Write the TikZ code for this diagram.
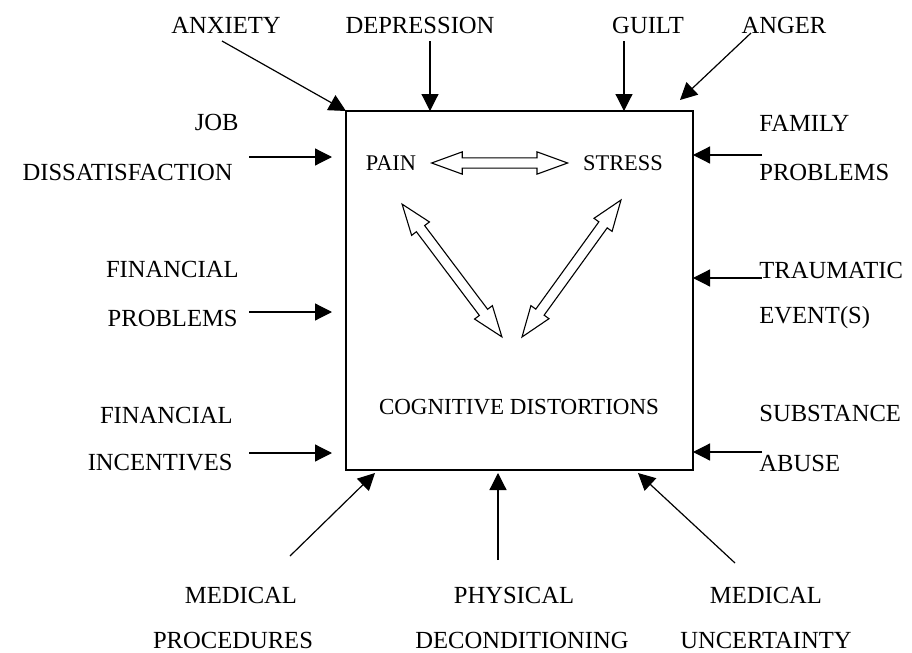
\documentclass[tikz,border=0pt]{standalone}
\usepackage{fontspec}
\setmainfont{Liberation Serif}
\usetikzlibrary{arrows.meta,shapes.arrows,calc}

\tikzset{
  factor/.style={font=\fontsize{12.3}{14}\selectfont, inner sep=0pt},
  core/.style={font=\fontsize{11.2}{13}\selectfont, inner sep=0pt},
  feed/.style={line width=0.6pt, -{Triangle[length=8.5pt,width=8.5pt]}},
  link/.style={double arrow, draw, line width=0.55pt, inner sep=2.3pt, minimum width=10.5pt,
    double arrow head extend=3pt, double arrow tip angle=40, sloped},
}

\begin{document}
\begin{tikzpicture}[x=0.5pt,y=-0.5pt]
\useasboundingbox (0,0) rectangle (912,653);

%box%
\node[draw, line width=0.6pt, outer sep=0pt, minimum width=173.5pt, minimum height=179.5pt] (box) at (519.5,290.5) {};
\node[core] (pain) at (391,163) {PAIN};
\node[core] (stress) at (623,163) {STRESS};
\node[core, font=\fontsize{11.5}{13}\selectfont] (cog) at (519,407) {COGNITIVE DISTORTIONS};
\coordinate (painlow) at (402,204);
\coordinate (stresslow) at (621,200);
\coordinate (cogleft) at (502,337);
\coordinate (cogright) at (522,337);
\path (pain.east) -- node[link, minimum height=68pt] {} (stress.west);
\path (painlow) -- node[link, minimum height=83pt] {} (cogleft);
\path (stresslow) -- node[link, minimum height=84.5pt] {} (cogright);

%top%
\node[factor] (anxiety) at (226,25) {ANXIETY};
\node[factor] (depression) at (420,25) {DEPRESSION};
\node[factor] (guilt) at (648,25) {GUILT};
\node[factor] (anger) at (784,25) {ANGER};
\coordinate (anxiety-t) at (222,41);
\coordinate (depression-t) at (430,41);
\coordinate (guilt-t) at (624,41);
\coordinate (anger-t) at (751,33);
\draw[feed] (anxiety-t) -- (box.north west);
\draw[feed] (depression-t) -- (depression-t |- box.north);
\draw[feed] (guilt-t) -- (guilt-t |- box.north);
\draw[feed] (anger-t) -- ($(box.north east)+(-13,-11)$);

%left%
\node[factor, anchor=east] (job) at (239,122) {JOB};
\node[factor, anchor=east] (dissatisfaction) at (233,172) {DISSATISFACTION};
\node[factor, anchor=east] (financial) at (239,269) {FINANCIAL};
\node[factor, anchor=east] (finproblems) at (238,318) {PROBLEMS};
\node[factor, anchor=east] (financial2) at (233,415) {FINANCIAL};
\node[factor, anchor=east] (incentives) at (233,463) {INCENTIVES};
\coordinate (job-t) at (249,157);
\coordinate (finproblems-t) at (249,312);
\coordinate (incentives-t) at (249,453);
\draw[feed] (job-t) -- ($(job-t -| box.west)+(-14,0)$);
\draw[feed] (finproblems-t) -- ($(finproblems-t -| box.west)+(-14,0)$);
\draw[feed] (incentives-t) -- ($(incentives-t -| box.west)+(-14,0)$);

%right%
\node[factor, anchor=west] (family) at (759,123) {FAMILY};
\node[factor, anchor=west] (famproblems) at (759,172) {PROBLEMS};
\node[factor, anchor=west] (traumatic) at (759,270) {TRAUMATIC};
\node[factor, anchor=west] (events) at (759,318) {EVENT(S)};
\node[factor, anchor=west] (substance) at (759,413) {SUBSTANCE};
\node[factor, anchor=west] (abuse) at (759,463) {ABUSE};
\coordinate (family-t) at (762,155);
\coordinate (traumatic-t) at (762,278);
\coordinate (substance-t) at (762,452);
\draw[feed] (family-t) -- (family-t -| box.east);
\draw[feed] (traumatic-t) -- (traumatic-t -| box.east);
\draw[feed] (substance-t) -- (substance-t -| box.east);

%bottom%
\node[factor] (medical) at (241,595) {MEDICAL};
\node[factor] (procedures) at (233,640) {PROCEDURES};
\node[factor] (physical) at (514,595) {PHYSICAL};
\node[factor] (deconditioning) at (522,640) {DECONDITIONING};
\node[factor] (medical2) at (766,595) {MEDICAL};
\node[factor] (uncertainty) at (766,640) {UNCERTAINTY};
\coordinate (medical-t) at (290,556);
\coordinate (physical-t) at (498,560);
\coordinate (medical2-t) at (735,563);
\draw[feed] (medical-t) -- ($(box.south west)+(29,3)$);
\draw[feed] (physical-t) -- ($(physical-t |- box.south)+(0,3)$);
\draw[feed] (medical2-t) -- ($(box.south east)+(-55,3)$);
\end{tikzpicture}
\end{document}
